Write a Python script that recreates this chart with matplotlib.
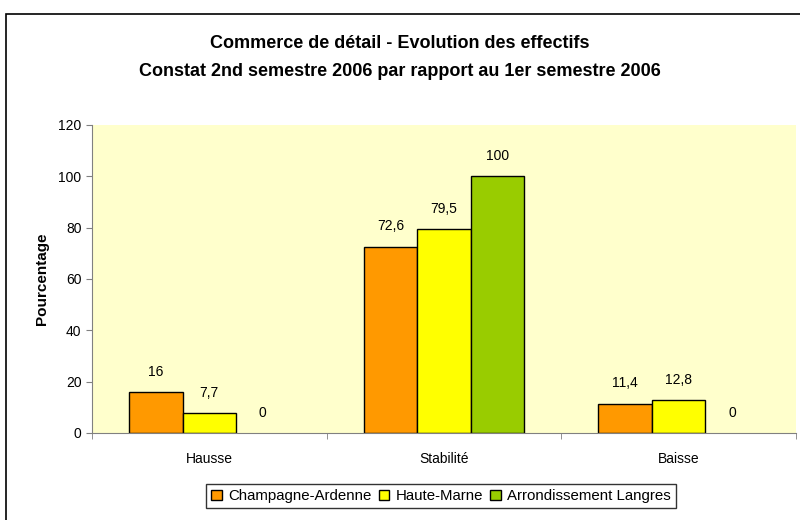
import numpy as np
import matplotlib.pyplot as plt
from matplotlib.patches import Rectangle

plt.rcParams['font.family'] = ['Liberation Sans', 'DejaVu Sans']

categories = ["Hausse", "Stabilité", "Baisse"]
series_names = ["Champagne-Ardenne", "Haute-Marne", "Arrondissement Langres"]
champagne = [16, 72.6, 11.4]
haute_marne = [7.7, 79.5, 12.8]
langres = [0, 100, 0]
colors = ["#FF9900", "#FFFF00", "#99CC00"]

fig = plt.figure(figsize=(8, 5.2), dpi=100)
# outer chart frame
fig.patches.append(Rectangle((6 / 800, -0.1), 1.0, (520 - 14) / 520 + 0.1,
                             transform=fig.transFigure, fill=False,
                             edgecolor="black", linewidth=1.2))

ax = fig.add_axes([92 / 800, 1 - 433 / 520, 704 / 800, 308 / 520])
ax.set_facecolor("#FFFFCC")

x = np.arange(len(categories))
w = 0.228
for i, (vals, name) in enumerate(zip([champagne, haute_marne, langres], series_names)):
    pos = x + (i - 1) * w
    lw = [1 if v > 0 else 0 for v in vals]
    ax.bar(pos, vals, w, color=colors[i], edgecolor="black", linewidth=lw, label=name)
    for p, v in zip(pos, vals):
        txt = f"{v:g}".replace(".", ",")
        ax.text(p, v + 5.2, txt, ha="center", va="bottom", fontsize=10)

ax.set_xlim(-0.5, 2.5)
ax.set_ylim(0, 120)
ax.set_yticks(range(0, 121, 20))
ax.set_xticks(x)
ax.set_xticklabels(categories, fontsize=10)
ax.set_xticks([-0.5, 0.5, 1.5, 2.5], minor=True)
ax.tick_params(axis="x", which="major", length=0, pad=14)
ax.tick_params(axis="x", which="minor", length=4, color="#808080")
ax.tick_params(axis="y", length=4, color="#808080", labelsize=10)
for s in ["top", "right"]:
    ax.spines[s].set_visible(False)
for s in ["left", "bottom"]:
    ax.spines[s].set_color("#808080")

ax.set_ylabel("Pourcentage", fontsize=11, fontweight="bold", labelpad=7)

fig.text(0.5, 1 - 44 / 520, "Commerce de détail - Evolution des effectifs",
         ha="center", va="center", fontsize=13, fontweight="bold")
fig.text(0.5, 1 - 72 / 520, "Constat 2nd semestre 2006 par rapport au 1er semestre 2006",
         ha="center", va="center", fontsize=13, fontweight="bold")

leg = fig.legend(loc="center", bbox_to_anchor=(441 / 800, 1 - 496 / 520), ncol=3,
                 fontsize=10.8, frameon=True, fancybox=False, handlelength=0.7,
                 handleheight=0.7, handletextpad=0.4, columnspacing=0.5,
                 borderpad=0.35, edgecolor="black")
leg.get_frame().set_linewidth(1)
for h in leg.legend_handles:
    h.set_edgecolor("black")
    h.set_linewidth(1)

fig.savefig("out.png", dpi=100)
